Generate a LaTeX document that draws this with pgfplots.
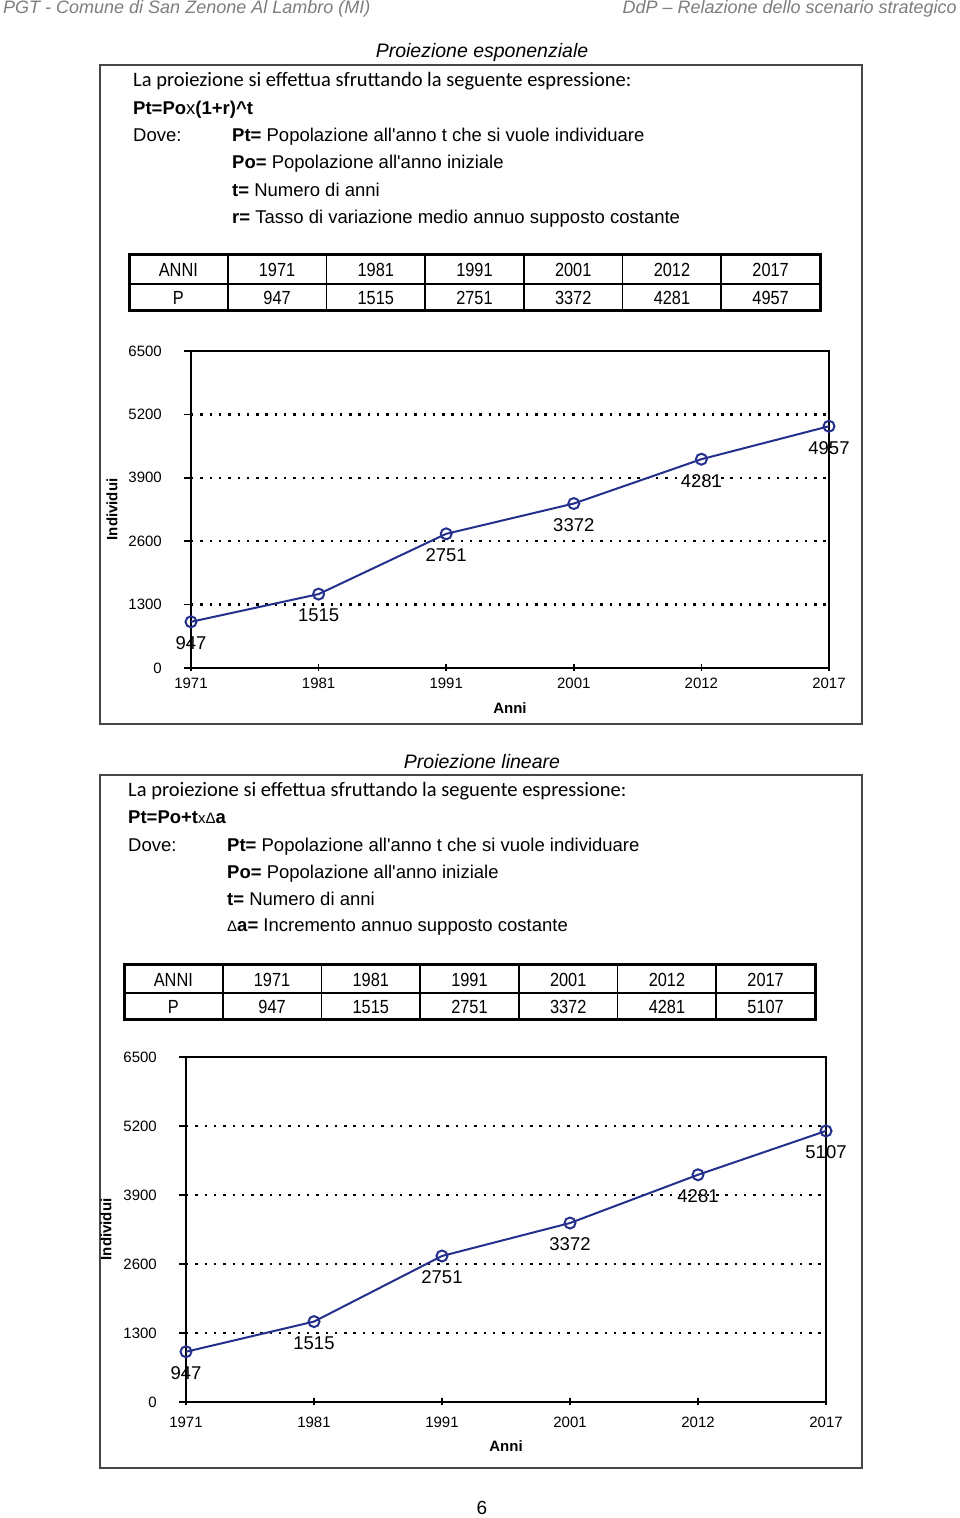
\documentclass[border=0pt]{standalone}
\usepackage{fontspec}
\setmainfont{Liberation Sans}
\newfontfamily\calib{Carlito}
\newfontfamily\narrow[FakeStretch=0.86]{Liberation Sans}
\usepackage{pgfplots}
\pgfplotsset{compat=1.18}
\definecolor{plotblue}{RGB}{36,48,140}
\definecolor{hdrgray}{RGB}{125,125,125}
\definecolor{boxgray}{RGB}{70,70,70}

\pgfplotsset{proj/.style={
  scale only axis, anchor=south west,
  xmin=0, xmax=5, ymin=0, ymax=6500,
  xtick={0,...,5}, xticklabels={1971,1981,1991,2001,2012,2017},
  ytick={0,1300,...,6500},
  xtick pos=bottom, ytick pos=left,
  xtick align=center, ytick align=outside, major tick length=7pt,
  tick style={black, line width=1.5pt},
  axis line style={line width=2pt},
  ymajorgrids, major grid style={black, line width=2.4pt, line cap=butt, dash pattern=on 2.4pt off 6.9pt},
  /pgf/number format/assume math mode=true,
  /pgf/number format/1000 sep={},
  scaled y ticks=false,
  ticklabel style={font=\fontsize{15}{17}\selectfont, inner sep=0pt},
  yticklabel style={anchor=east, xshift=-22pt},
  xticklabel style={anchor=north, yshift=-6pt},
  label style={font=\bfseries\fontsize{15}{17}\selectfont},
  clip=false,
  nodes near coords,
  every node near coord/.append style={font=\fontsize{18.5}{20}\selectfont, anchor=north, inner sep=0pt, yshift=-14pt, text=black},
}}

\newcommand{\tline}[3]{\node[anchor=base west, inner sep=0pt, font=\fontsize{18.5}{20}\selectfont] at (#1,#2) {#3};}

\begin{document}
\begin{tikzpicture}[x=1pt,y=1pt]
\useasboundingbox (0,0) rectangle (960,1518);

% header
\node[anchor=base west, inner sep=0pt, text=hdrgray, font=\itshape\fontsize{18}{20}\selectfont] at (3,1504) {PGT - Comune di San Zenone Al Lambro (MI)};
\node[anchor=base east, inner sep=0pt, text=hdrgray, font=\itshape\fontsize{18}{20}\selectfont] at (957,1504) {DdP – Relazione dello scenario strategico};

% ===== Block 1 =====
\node[inner sep=0pt, font=\itshape\fontsize{19.5}{22}\selectfont] at (482,1466) {Proiezione esponenziale};
\draw[boxgray, line width=1.5pt] (100,1453) rectangle (862,794);
\node[anchor=base west, inner sep=0pt, font=\calib\fontsize{20.5}{22}\selectfont] at (133,1431) {La proiezione si effettua sfruttando la seguente espressione:};
\tline{133}{1403}{\textbf{Pt=Po}x\textbf{(1+r)\textasciicircum t}}
\tline{133}{1376}{Dove:}
\tline{232}{1376}{\textbf{Pt=} Popolazione all\textquotesingle anno t che si vuole individuare}
\tline{232}{1349}{\textbf{Po=} Popolazione all\textquotesingle anno iniziale}
\tline{232}{1321}{\textbf{t=} Numero di anni}
\tline{232}{1294}{\textbf{r=} Tasso di variazione medio annuo supposto costante}

% table 1
\draw[line width=1.3pt] (129,1234) -- (820,1234);
\foreach \i in {1,...,6} \draw[line width=1.6pt] ({129+\i*98.714},1263) -- ({129+\i*98.714},1207);
\draw[line width=3pt] (129,1263) rectangle (820,1207);
\foreach \t [count=\i from 0] in {ANNI,1971,1981,1991,2001,2012,2017}
  \node[font=\narrow\fontsize{19}{21}\selectfont, inner sep=0pt] at ({129+(\i+0.5)*98.714},1248) {\t};
\foreach \t [count=\i from 0] in {P,947,1515,2751,3372,4281,4957}
  \node[font=\narrow\fontsize{19}{21}\selectfont, inner sep=0pt] at ({129+(\i+0.5)*98.714},1220) {\t};

\begin{axis}[proj, at={(191pt,850pt)}, width=638pt, height=317pt,
  xlabel={Anni}, ylabel={Individui},
  xlabel style={at={(axis description cs:0.5,-0.1262)}, anchor=center},
  ylabel style={at={(axis description cs:-0.1238,0.5)}, anchor=center}]
\addplot[plotblue, line width=2pt, mark=o, mark size=5.5pt, mark options={fill=white, line width=2pt}]
  coordinates {(0,947) (1,1515) (2,2751) (3,3372) (4,4281) (5,4957)};
\end{axis}

% ===== Block 2 =====
\node[inner sep=0pt, font=\itshape\fontsize{19.5}{22}\selectfont] at (482,756) {Proiezione lineare};
\draw[boxgray, line width=1.5pt] (100,743) rectangle (862,50);
\node[anchor=base west, inner sep=0pt, font=\calib\fontsize{20.5}{22}\selectfont] at (128,721) {La proiezione si effettua sfruttando la seguente espressione:};
\tline{128}{694}{\textbf{Pt=Po+t}{\fontsize{15}{16}\selectfont x}{\fontsize{15}{16}\selectfont Δ}\textbf{a}}
\tline{128}{666}{Dove:}
\tline{227}{666}{\textbf{Pt=} Popolazione all\textquotesingle anno t che si vuole individuare}
\tline{227}{639}{\textbf{Po=} Popolazione all\textquotesingle anno iniziale}
\tline{227}{612}{\textbf{t=} Numero di anni}
\tline{227}{586}{{\fontsize{15}{16}\selectfont Δ}\textbf{a=} Incremento annuo supposto costante}

% table 2
\draw[line width=1.3pt] (124,525) -- (815,525);
\foreach \i in {1,...,6} \draw[line width=1.6pt] ({124+\i*98.714},553) -- ({124+\i*98.714},498);
\draw[line width=3pt] (124,553) rectangle (815,498);
\foreach \t [count=\i from 0] in {ANNI,1971,1981,1991,2001,2012,2017}
  \node[font=\narrow\fontsize{19}{21}\selectfont, inner sep=0pt] at ({124+(\i+0.5)*98.714},538) {\t};
\foreach \t [count=\i from 0] in {P,947,1515,2751,3372,4281,5107}
  \node[font=\narrow\fontsize{19}{21}\selectfont, inner sep=0pt] at ({124+(\i+0.5)*98.714},511) {\t};

\begin{axis}[proj, at={(186pt,116pt)}, width=640pt, height=345pt,
  xlabel={Anni}, ylabel={Individui},
  xticklabel style={yshift=-5pt},
  xlabel style={at={(axis description cs:0.5,-0.1275)}, anchor=center},
  ylabel style={at={(axis description cs:-0.125,0.5)}, anchor=center}]
\addplot[plotblue, line width=2pt, mark=o, mark size=5.5pt, mark options={fill=white, line width=2pt}]
  coordinates {(0,947) (1,1515) (2,2751) (3,3372) (4,4281) (5,5107)};
\end{axis}

% page number
\node[inner sep=0pt, font=\fontsize{19}{21}\selectfont] at (482,10) {6};
\end{tikzpicture}
\end{document}
